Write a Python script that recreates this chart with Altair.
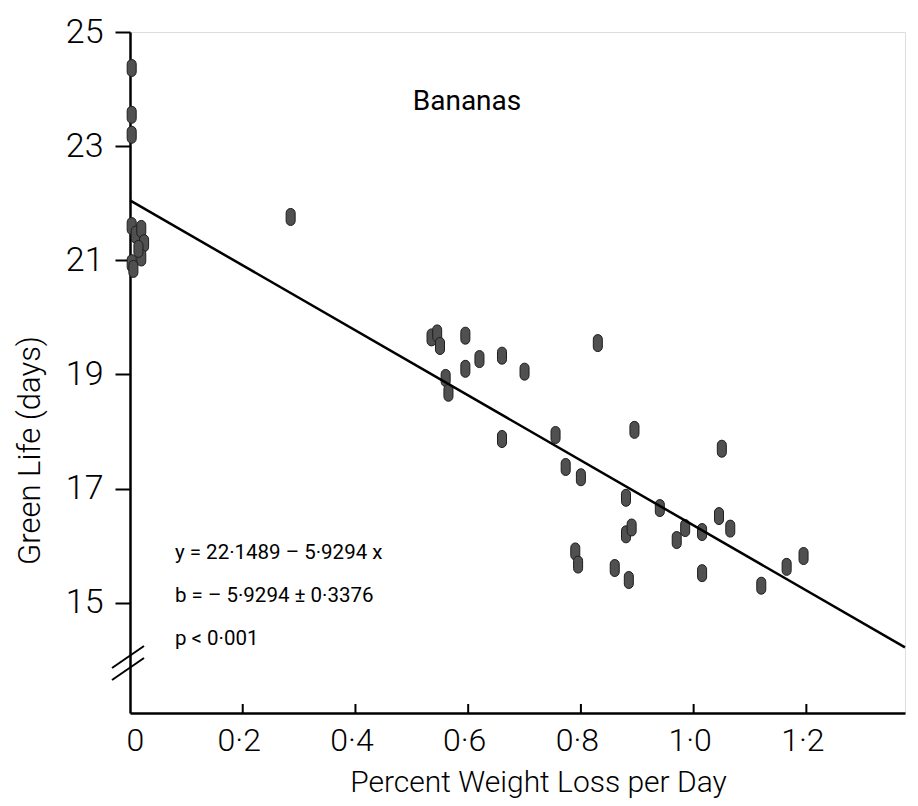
import altair as alt
import pandas as pd

# Observed points (percent weight loss per day, green life in days)
xs = [0.003, 0.003, 0.003,
      0.003, 0.01, 0.02, 0.025, 0.003, 0.02, 0.006, 0.015,
      0.285,
      0.535, 0.545, 0.55,
      0.595, 0.595, 0.62, 0.66, 0.70,
      0.56, 0.565,
      0.66, 0.755,
      0.83,
      0.773, 0.80, 0.895, 1.05,
      0.88, 0.94, 1.045, 1.065, 0.985, 0.97, 1.015,
      0.88, 0.89,
      0.79, 0.795, 0.86, 0.885, 1.015, 1.12, 1.165, 1.195]
ys = [24.37, 23.55, 23.2,
      21.6, 21.45, 21.55, 21.3, 20.95, 21.05, 20.85, 21.2,
      21.76,
      19.65, 19.72, 19.5,
      19.68, 19.1, 19.27, 19.33, 19.05,
      18.94, 18.68,
      17.87, 17.94,
      19.55,
      17.38, 17.2, 18.03, 17.7,
      16.84, 16.66, 16.52, 16.3, 16.31, 16.1, 16.24,
      16.2, 16.32,
      15.9, 15.67, 15.61, 15.4, 15.52, 15.3, 15.63, 15.82]

# Fitted line as drawn
line_x = [0.0, 1.375]
line_y = [22.05, 14.22]

x_ticks = [0, 0.2, 0.4, 0.6, 0.8, 1.0, 1.2]
x_inner_ticks = [0.2, 0.4, 0.6, 0.8, 1.0, 1.2]
y_ticks = [15, 17, 19, 21, 23, 25]

title_text = "Bananas"
eq_lines = ["y = 22·1489 – 5·9294 x", "b = – 5·9294 ± 0·3376", "p < 0·001"]

FONT = "Roboto"
W, H = 775, 681

pts = pd.DataFrame({"x": xs, "y": ys})
line_df = pd.DataFrame({"x": line_x, "y": line_y})
tick_df = pd.DataFrame({"x": x_inner_ticks})

xscale = alt.Scale(domain=[0, 1.375], nice=False, zero=False)
yscale = alt.Scale(domain=[13.07, 25], nice=False, zero=False)

capsule = "M -0.53 -0.47 A 0.53 0.53 0 0 1 0.53 -0.47 L 0.53 0.47 A 0.53 0.53 0 0 1 -0.53 0.47 Z"

xaxis = alt.Axis(values=x_ticks, ticks=False, grid=False,
                 labelExpr="datum.value == 0 ? '0' : replace(format(datum.value, '.1f'), '.', '·')",
                 labelFontSize=32, labelFont=FONT, labelFontWeight=300, labelColor="black",
                 labelPadding=12, labelOffset=-4,
                 domainColor="black", domainWidth=2.5,
                 title="Percent Weight Loss per Day", titleFont=FONT, titleFontSize=30,
                 titleFontWeight=300, titleColor="black",
                 titleX=408, titleY=78, titleAlign="center", titleBaseline="alphabetic")
yaxis = alt.Axis(values=y_ticks, grid=False, tickSize=15, tickWidth=2, tickColor="black",
                 labelFontSize=34, labelFont=FONT, labelFontWeight=300, labelColor="black",
                 labelPadding=12,
                 domainColor="black", domainWidth=2.5,
                 title="Green Life (days)", titleFont=FONT, titleFontSize=31,
                 titleFontWeight=300, titleColor="black",
                 titleAngle=270, titleX=-100, titleY=418, titleAlign="center",
                 titleBaseline="middle")

X = alt.X("x:Q", scale=xscale, axis=xaxis)
Y = alt.Y("y:Q", scale=yscale, axis=yaxis)

points = alt.Chart(pts).mark_point(shape=capsule, filled=True, size=289, fill="#505050",
                                   stroke="#1e1e1e", strokeWidth=1, opacity=1).encode(x=X, y=Y)

fit = alt.Chart(line_df).mark_line(color="black", strokeWidth=2.5).encode(x=X, y=Y)

inner_ticks = alt.Chart(tick_df).mark_rule(color="black", strokeWidth=2).encode(
    x=X, y=alt.value(H), y2=alt.value(H - 9))

one = pd.DataFrame({"a": [1]})
brk1 = alt.Chart(one).mark_rule(color="black", strokeWidth=2).encode(
    x=alt.value(-18), x2=alt.value(14), y=alt.value(636), y2=alt.value(614))
brk2 = alt.Chart(one).mark_rule(color="black", strokeWidth=2).encode(
    x=alt.value(-18), x2=alt.value(14), y=alt.value(648), y2=alt.value(626))

title = alt.Chart(pd.DataFrame({"t": [title_text]})).mark_text(
    font=FONT, fontSize=28, fontWeight=400, color="black", align="center",
    baseline="alphabetic").encode(x=alt.value(337), y=alt.value(78), text="t:N")

eq_y = [521, 564, 607]
eqs = [alt.Chart(pd.DataFrame({"t": [t]})).mark_text(
    font=FONT, fontSize=20.5, fontWeight=400, color="black", align="left",
    baseline="middle").encode(x=alt.value(45), y=alt.value(yy), text="t:N")
    for t, yy in zip(eq_lines, eq_y)]

chart = alt.layer(points, fit, inner_ticks, brk1, brk2, title, *eqs).properties(
    width=W, height=H,
    autosize=alt.AutoSizeParams(type="none"),
    padding={"left": 122, "top": 24, "right": 5, "bottom": 85},
).configure_view(stroke=None).configure_axis(grid=False).configure(background="white")

chart.save("out.html", embed_options={"renderer": "svg", "actions": False})
